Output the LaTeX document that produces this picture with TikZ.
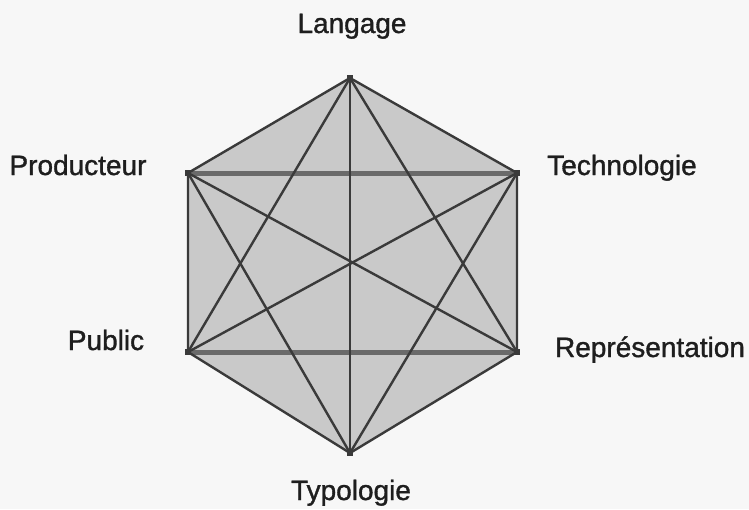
\documentclass[tikz,border=0pt]{standalone}
\usepackage{fontspec}
\setmainfont{Liberation Sans}
\newfontfamily\labfont[FakeBold=1.2]{Liberation Sans}
\definecolor{bgc}{HTML}{F7F7F7}
\definecolor{hexc}{HTML}{C9C9C9}
\definecolor{linec}{HTML}{3A3A3A}
\definecolor{hlinec}{HTML}{6A6A6A}
\definecolor{txtc}{HTML}{1E1E1E}
\begin{document}
\begin{tikzpicture}[x=1pt,y=-1pt,
  edge/.style={draw=linec,line width=2.4pt},
  hedge/.style={draw=hlinec,line width=5pt},
  vtx/.style={fill=linec,minimum size=6pt,inner sep=0pt},
  lab/.style={anchor=base,inner sep=0pt,text=txtc,font=\labfont\fontsize{28}{30}\selectfont}]
\fill[bgc] (0,0) rectangle (749,509);
\useasboundingbox (0,0) rectangle (749,509);
\coordinate (L) at (350,78);
\coordinate (T) at (517,173);
\coordinate (R) at (517,352);
\coordinate (Ty) at (350,453);
\coordinate (Pu) at (188,352);
\coordinate (Pr) at (188,173);
\fill[hexc] (L) -- (T) -- (R) -- (Ty) -- (Pu) -- (Pr) -- cycle;
% horizontal diagonals
\draw[hedge] (Pr) -- (T);
\draw[hedge] (Pu) -- (R);
% hexagon sides
\draw[edge,line join=round] (L) -- (T) -- (R) -- (Ty) -- (Pu) -- (Pr) -- cycle;
% other diagonals
\draw[edge] (L) -- (Ty);
\draw[edge] (L) -- (R);
\draw[edge] (L) -- (Pu);
\draw[edge] (T) -- (Ty);
\draw[edge] (T) -- (Pu);
\draw[edge] (Pr) -- (R);
\draw[edge] (Pr) -- (Ty);
% vertex markers
\foreach \v in {L,T,R,Ty,Pu,Pr} \node[vtx] at (\v) {};
% labels
\node[lab] (lL) at (352,33) {Langage};
\node[lab] (lT) at (622,175) {Technologie};
\node[lab] (lPr) at (78,175) {Producteur};
\node[lab] (lPu) at (106,350) {Public};
\node[lab] (lR) at (650,357) {Représentation};
\node[lab] (lTy) at (351,500) {Typologie};
\end{tikzpicture}
\end{document}
